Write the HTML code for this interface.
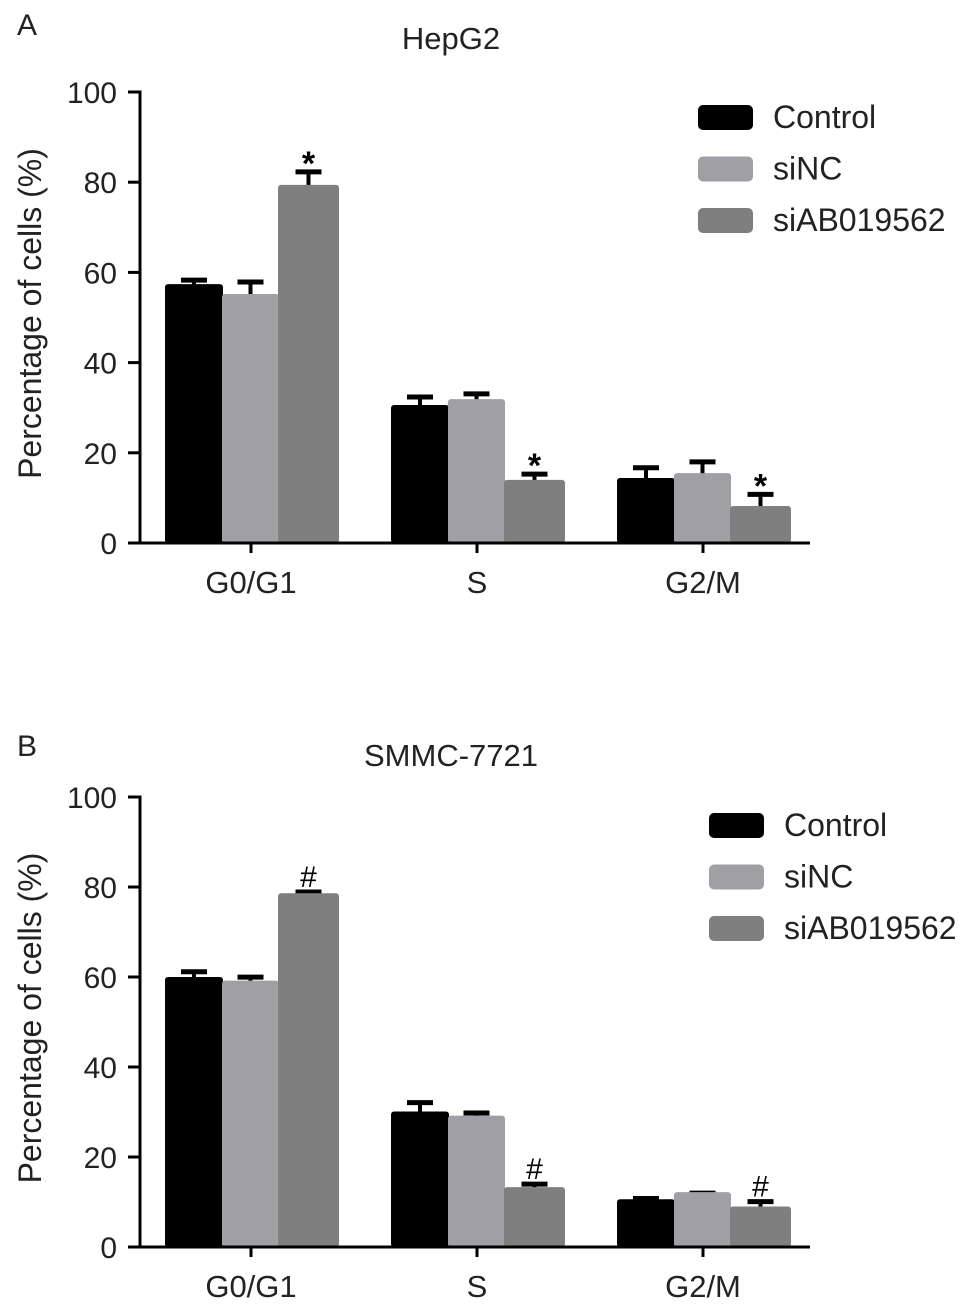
<!DOCTYPE html>
<html><head><meta charset="utf-8">
<style>
html,body{margin:0;padding:0;background:#fff;}
svg{display:block;font-family:"Liberation Sans",Arial,sans-serif;}
</style></head>
<body>
<svg id="fig" width="970" height="1311" viewBox="0 0 970 1311" xmlns="http://www.w3.org/2000/svg"></svg>
<script>
const categories = ["G0/G1", "S", "G2/M"];
const seriesNames = ["Control", "siNC", "siAB019562"];
const tickLabels = [0, 20, 40, 60, 80, 100];
// Panel A (HepG2)
const hepControl = [57.4, 30.6, 14.4];
const hepControlErr = [58.5, 32.6, 16.9];
const hepSiNC = [55.2, 31.9, 15.5];
const hepSiNCErr = [58.1, 33.3, 18.2];
const hepSiAB = [79.4, 14.0, 8.2];
const hepSiABErr = [82.5, 15.5, 11.0];
// Panel B (SMMC-7721)
const smmcControl = [60.0, 30.1, 10.6];
const smmcControlErr = [61.4, 32.3, 11.0];
const smmcSiNC = [59.2, 29.2, 12.2];
const smmcSiNCErr = [60.2, 30.0, 12.2];
const smmcSiAB = [78.6, 13.3, 9.0];
const smmcSiABErr = [79.1, 14.2, 10.3];

const NS = "http://www.w3.org/2000/svg";
const svg = document.getElementById("fig");
const colors = ["#000000", "#a0a0a4", "#7f7f7f"];
function mk(tag, attrs, parent, text) {
  const e = document.createElementNS(NS, tag);
  for (const k in attrs) e.setAttribute(k, attrs[k]);
  if (text !== undefined) e.textContent = text;
  (parent || svg).appendChild(e);
  return e;
}

function panel(cfg) {
  const g = mk("g", {});
  
  
  const axisX = 140, y0 = cfg.base, y100 = cfg.top;
  const yScale = v => y0 - (v / 100) * (y0 - y100);
  const xCenter = i => 251 + i * 226;
  const offs = [-86, -29, 27];
  const widths = [58, 57, 61];

  const lbl = mk("text", {x: 17, y: cfg.letterY, "font-size": 30, fill: "#222"}, g, cfg.letter);
  
  
  const t = mk("text", {x: 451, y: cfg.titleY, "font-size": 31, "text-anchor": "middle", fill: "#222"}, g, cfg.title);
  
  

  const ya = mk("line", {x1: axisX, y1: y100 - 1.5, x2: axisX, y2: y0 + 1.5, stroke: "#000", "stroke-width": 3}, g);
  
  
  tickLabels.forEach(v => {
    const y = yScale(v);
    const tk = mk("line", {x1: 128, y1: y, x2: axisX, y2: y, stroke: "#000", "stroke-width": 3}, g);
    
    
    const tl = mk("text", {x: 117, y: y + 11, "font-size": 30, "text-anchor": "end", fill: "#222"}, g, String(v));
    
    
  });
  const yt = mk("text", {x: 0, y: 0, "font-size": 32, "text-anchor": "middle", fill: "#222",
    transform: `translate(41,${(y0 + y100) / 2 - 4}) rotate(-90)`}, g, "Percentage of cells (%)");
  
  

  const vals = [cfg.c, cfg.n, cfg.a];
  const errs = [cfg.ce, cfg.ne, cfg.ae];
  categories.forEach((cat, i) => {
    const cx = xCenter(i);
    for (let s = 0; s < 3; s++) {
      const x = cx + offs[s], w = widths[s];
      const top = yScale(vals[s][i]);
      const et = yScale(errs[s][i]);
      const mid = x + w / 2;
      const ev = mk("line", {x1: mid, y1: et, x2: mid, y2: top + 2, stroke: "#000", "stroke-width": 4}, g);
      
      
      const ec = mk("line", {x1: mid - 13, y1: et + 1, x2: mid + 13, y2: et + 1, stroke: "#000", "stroke-width": 5}, g);
      
      
      const r = mk("rect", {x: x, y: top, width: w, height: y0 - top, fill: colors[s], rx: 3}, g);
      
      
      if (s === 2) {
        const isStar = cfg.mark === "*";
        const m = mk("text", {x: mid, y: isStar ? et + 4 : et - 4, "font-size": isStar ? 34 : 30, "font-weight": isStar ? "bold" : "normal", "text-anchor": "middle", fill: "#000"}, g, cfg.mark);
        
        
      }
    }
    const xt = mk("line", {x1: cx, y1: y0, x2: cx, y2: y0 + 10, stroke: "#000", "stroke-width": 3}, g);
    
    
    const xl = mk("text", {x: cx, y: y0 + 50, "font-size": 31, "text-anchor": "middle", fill: "#222"}, g, cat);
    
    
  });
  const xa = mk("line", {x1: axisX - 1.5, y1: y0, x2: 810, y2: y0, stroke: "#000", "stroke-width": 3}, g);
  
  

  seriesNames.forEach((nm, s) => {
    const ly = cfg.legY + s * 51.5;
    const sw = mk("rect", {x: cfg.legX, y: ly, width: 55, height: 25, rx: 5, fill: colors[s]}, g);
    
    
    const lt = mk("text", {x: cfg.legX + 75, y: ly + 23, "font-size": 32, fill: "#222"}, g, nm);
    
    
  });
}

panel({name: "panel-a-hepg2", letter: "A", letterY: 35, title: "HepG2", titleY: 49,
  base: 543, top: 92, c: hepControl, ce: hepControlErr, n: hepSiNC, ne: hepSiNCErr,
  a: hepSiAB, ae: hepSiABErr, mark: "*", legX: 698, legY: 105});
panel({name: "panel-b-smmc7721", letter: "B", letterY: 756, title: "SMMC-7721", titleY: 766,
  base: 1247, top: 797, c: smmcControl, ce: smmcControlErr, n: smmcSiNC, ne: smmcSiNCErr,
  a: smmcSiAB, ae: smmcSiABErr, mark: "#", legX: 709, legY: 813});
</script>
</body></html>
